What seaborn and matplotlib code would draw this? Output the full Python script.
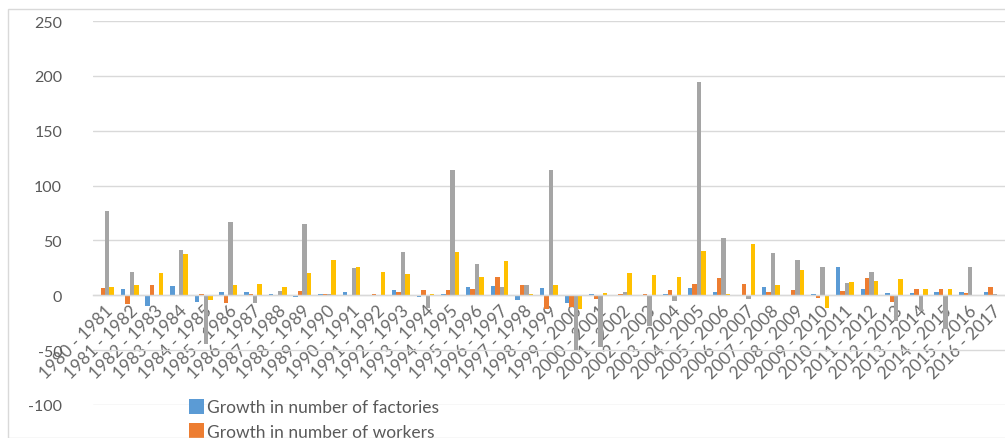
import matplotlib
matplotlib.use("Agg")
import matplotlib.pyplot as plt
import seaborn as sns
import pandas as pd
from matplotlib.patches import Rectangle

periods = [f"{y} - {y+1}" for y in range(1980, 2017)]
factories = [0.5, 5.5, -9.8, 8.6, -6, 2.8, 3, 1.2, -1.5, 1, 3, -1, 4.9, -1.2, 1, 8, 8.3, -4.6, 6.7,
             -6.7, 1, 0.3, -0.5, 1.2, 7, 2.8, 0.3, 7.7, 0.3, 1, 25.5, 6.1, 2.5, 2.5, 3, 2.8, 2.8]
workers = [6.4, -8.3, 9.5, -1, 1, -6.7, 1.2, -0.5, 4.3, 1, 0.3, 1, 2.8, 4.6, 4.6, 5.5, 16.3, 9.5, -12.9,
           -10.7, -3, 1.5, 1, 4.6, 10.7, 15.6, 10.1, 2.8, 4.6, -2.8, 4, 16, -6.1, 5.8, 5.8, 2.5, 7.7]
capital = [77, 21, -1, 41.7, -44, 67, -6.7, 4.3, 64.7, 1, 24.8, 0.3, 39.9, -11.3, 114, 28.8, 7.7, 9.5, 114,
           -50, -47, 2.8, -28, -5.5, 194, 52, -3, 38.7, 32.5, 25.8, 11, 20.9, -23.5, -14.5, -31, 26, 1]
output = [8, 9.5, 20, 37.4, -4.6, 9.5, 10.7, 8, 20.6, 32.2, 25.8, 20.9, 19.3, 1.2, 39.3, 16.3, 31, 1.2, 9.2,
          -12.3, 1.8, 20.2, 18.4, 16.9, 40.8, 1.2, 47, 9.5, 23, -11.3, 12, 13.2, 14.7, 5.8, 6.1, 0.3, 0.3]
series_names = ["Growth in number of factories", "Growth in number of workers",
                "Growth in fixed capital", "Growth in output"]
colors = ["#5B9BD5", "#ED7D31", "#A5A5A5", "#FFC000"]
yticks = [-100, -50, 0, 50, 100, 150, 200, 250]

rows = []
for name, vals in zip(series_names, [factories, workers, capital, output]):
    for p, v in zip(periods, vals):
        rows.append({"period": p, "series": name, "value": v})
df = pd.DataFrame(rows)

sns.set_theme(style="white")
plt.rcParams["font.family"] = ["Lato", "DejaVu Sans"]
plt.rcParams["axes.unicode_minus"] = False
txt = "#595959"
grid = "#D9D9D9"

fig = plt.figure(figsize=(10.05, 4.39), dpi=100)
W, H = 1005, 439
fig.patches.append(Rectangle((8 / W, 0), 1.2, 1 - 10 / H, transform=fig.transFigure,
                             fill=False, edgecolor=grid, linewidth=1))
ax = fig.add_axes([92.7 / W, 1 - 406 / H, (W - 92.7) / W, (406 - 22) / H])

sns.barplot(data=df, x="period", y="value", hue="series", hue_order=series_names,
            palette=colors, saturation=1, width=0.72, linewidth=0, ax=ax, legend=True)

ax.set_ylim(-100, 250)
ax.set_xlim(-0.5, len(periods) - 0.5)
ax.set_yticks(yticks)
ax.yaxis.grid(True, color=grid, linewidth=1)
ax.set_axisbelow(True)
for s in ["top", "right", "left"]:
    ax.spines[s].set_visible(False)
ax.spines["bottom"].set_position(("data", 0))
ax.spines["bottom"].set_color(grid)
ax.spines["bottom"].set_linewidth(1)
ax.set_xlabel("")
ax.set_ylabel("")
ax.tick_params(axis="y", length=0, pad=22, labelsize=11.5, labelcolor=txt)
ax.tick_params(axis="x", length=0, pad=5, labelsize=12.5, labelcolor="#6a6a6a")
ax.set_xticks(range(len(periods)))
ax.set_xticklabels(periods, rotation=45, ha="right", va="top", rotation_mode="anchor")

handles, labels = ax.get_legend_handles_labels()
ax.legend(handles[:2], labels[:2], loc="upper left", bbox_to_anchor=(189 / W, 1 - 400 / H),
          bbox_transform=fig.transFigure, frameon=False, fontsize=12.5,
          labelcolor=txt, handlelength=0.85, handleheight=0.95, handletextpad=0.2,
          labelspacing=0.45, borderaxespad=0, borderpad=0)

fig.savefig("out.png", dpi=100)
